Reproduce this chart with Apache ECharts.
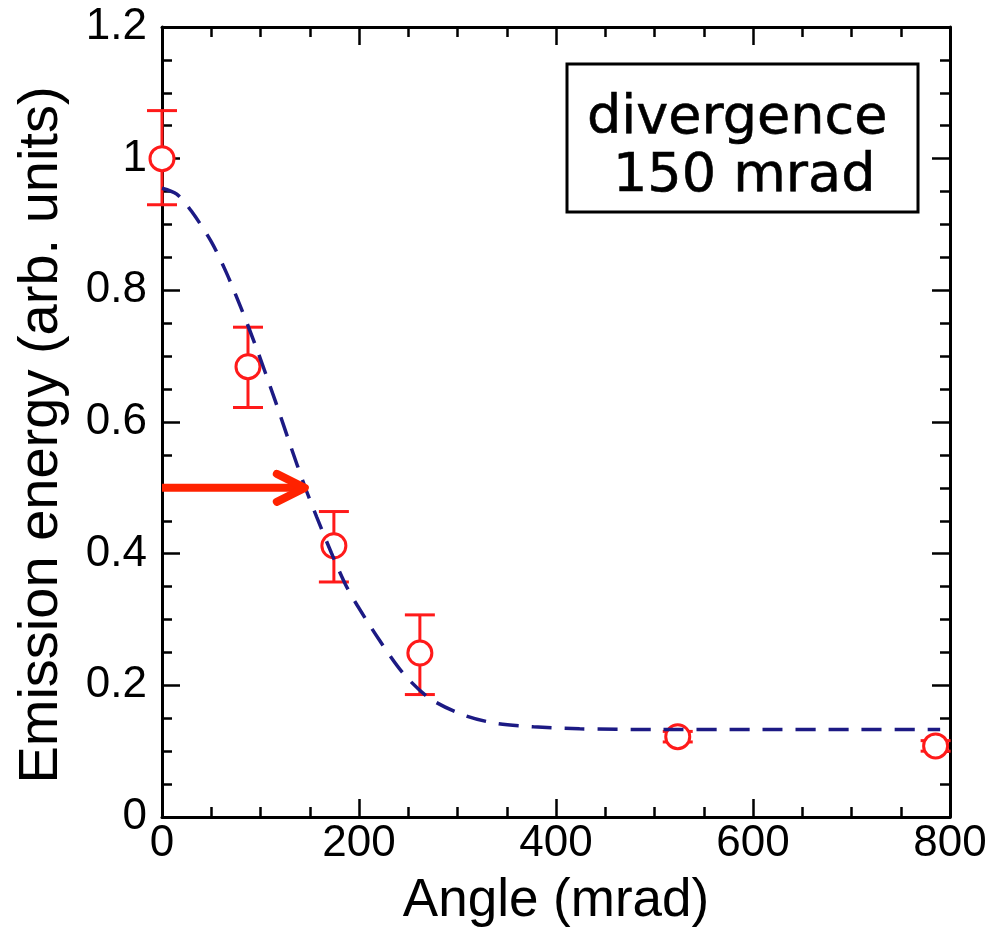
<!DOCTYPE html>
<html>
<head>
<meta charset="utf-8">
<script src="https://cdn.jsdelivr.net/npm/echarts@6/dist/echarts.min.js"></script>
<style>
html,body{margin:0;padding:0;background:#fff;}
#chart{width:990px;height:929px;}
</style>
</head>
<body>
<div id="chart"></div>
<script>
// ---- data ----
const angles   = [0, 87.3, 174.5, 261.8, 523.6, 785.4];
const energy   = [1.0, 0.684, 0.412, 0.249, 0.122, 0.108];
const errLow   = [0.930, 0.622, 0.357, 0.186, 0.114, 0.100];
const errHigh  = [1.073, 0.744, 0.464, 0.307, 0.130, 0.116];

const fitX = [0, 15, 30, 50, 65, 80, 95, 115, 130, 145, 157, 172, 186, 198, 221, 245, 272, 306, 340, 377, 424, 500, 600, 700, 790];
const fitY = [0.955, 0.946, 0.920, 0.874, 0.828, 0.774, 0.716, 0.632, 0.566, 0.502, 0.456, 0.401, 0.354, 0.322, 0.268, 0.218, 0.180, 0.155, 0.142, 0.137, 0.134, 0.133, 0.133, 0.133, 0.133];

const arrowFrom = [0, 0.5];
const arrowTo   = [145, 0.5];

const xTicks = [0, 200, 400, 600, 800];
const yTicks = [0, 0.2, 0.4, 0.6, 0.8, 1, 1.2];

const xTitle = 'Angle (mrad)';
const yTitle = 'Emission energy (arb. units)';
const boxLines = ['divergence', '150 mrad'];

// ---- chart ----
const chart = echarts.init(document.getElementById('chart'), null, {renderer: 'canvas'});
const RED = '#ff1a1a';
const NAVY = '#1c1a84';
const AX = '#000';

const baseAxis = {
  axisLine: {show: true, onZero: false, lineStyle: {color: AX, width: 3}},
  axisTick: {show: true, inside: true, length: 18, lineStyle: {color: AX, width: 2.5}},
  minorTick: {show: true, splitNumber: 4, length: 10, lineStyle: {color: AX, width: 2.5}},
  splitLine: {show: false},
  minorSplitLine: {show: false}
};

const option = {
  backgroundColor: '#fff',
  animation: false,
  grid: {left: 162, top: 27, right: 40, bottom: 112, containLabel: false, outerBoundsMode: 'none'},
  xAxis: [
    Object.assign({}, baseAxis, {
      type: 'value', min: xTicks[0], max: xTicks[xTicks.length - 1], interval: 200,
      position: 'bottom',
      name: xTitle, nameLocation: 'middle', nameGap: 58,
      nameTextStyle: {fontFamily: 'Liberation Sans', fontSize: 53, color: '#000'},
      axisLabel: {fontFamily: 'Liberation Sans', fontSize: 44, color: '#000', margin: 5}
    }),
    Object.assign({}, baseAxis, {
      type: 'value', min: xTicks[0], max: xTicks[xTicks.length - 1], interval: 200,
      position: 'top', axisLabel: {show: false}
    })
  ],
  yAxis: [
    Object.assign({}, baseAxis, {
      type: 'value', min: yTicks[0], max: yTicks[yTicks.length - 1], interval: 0.2,
      position: 'left',
      name: yTitle, nameLocation: 'middle', nameGap: 92,
      nameTextStyle: {fontFamily: 'Liberation Sans', fontSize: 56, color: '#000', padding: [0, 26, 0, 0]},
      axisLabel: {fontFamily: 'Liberation Sans', fontSize: 44, color: '#000', margin: 15}
    }),
    Object.assign({}, baseAxis, {
      type: 'value', min: yTicks[0], max: yTicks[yTicks.length - 1], interval: 0.2,
      position: 'right', axisLabel: {show: false}
    })
  ],
  series: [
    {
      type: 'custom',
      name: 'error',
      z: 2,
      data: angles.map((a, i) => [a, errLow[i], errHigh[i]]),
      renderItem: function (params, api) {
        const x = api.value(0);
        const lo = api.coord([x, api.value(1)]);
        const hi = api.coord([x, api.value(2)]);
        const w = 15;
        const st = {stroke: RED, lineWidth: 3, fill: null};
        return {
          type: 'group',
          children: [
            {type: 'line', shape: {x1: lo[0], y1: lo[1], x2: hi[0], y2: hi[1]}, style: st},
            {type: 'line', shape: {x1: lo[0] - w, y1: lo[1], x2: lo[0] + w, y2: lo[1]}, style: st},
            {type: 'line', shape: {x1: hi[0] - w, y1: hi[1], x2: hi[0] + w, y2: hi[1]}, style: st}
          ]
        };
      }
    },
    {
      type: 'scatter',
      name: 'data',
      z: 3,
      data: angles.map((a, i) => [a, energy[i]]),
      symbol: 'circle',
      symbolSize: 24,
      itemStyle: {color: '#fff', borderColor: RED, borderWidth: 3, opacity: 1}
    },
    {
      type: 'line',
      name: 'fit',
      z: 4,
      data: fitX.map((x, i) => [x, fitY[i]]),
      smooth: 0.3,
      showSymbol: false,
      symbol: 'none',
      lineStyle: {color: NAVY, width: 3.5, type: [20, 13]}
    },
    {
      type: 'custom',
      name: 'arrow',
      z: 5,
      data: [[arrowFrom[0], arrowFrom[1], arrowTo[0], arrowTo[1]]],
      renderItem: function (params, api) {
        const s = api.coord([api.value(0), api.value(1)]);
        const e = api.coord([api.value(2), api.value(3)]);
        const st = {stroke: '#ff2200', lineWidth: 8, fill: null, lineCap: 'round', lineJoin: 'round'};
        return {
          type: 'group',
          children: [
            {type: 'line', shape: {x1: s[0], y1: s[1], x2: e[0] - 3, y2: e[1]}, style: {stroke: '#ff2200', lineWidth: 8, lineCap: 'butt'}},
            {type: 'polyline', shape: {points: [[e[0] - 28, e[1] - 14], [e[0], e[1]], [e[0] - 28, e[1] + 14]]}, style: st}
          ]
        };
      }
    }
  ],
  graphic: [
    {
      type: 'rect',
      shape: {x: 567, y: 64, width: 351, height: 148},
      style: {fill: '#fff', stroke: '#000', lineWidth: 3},
      z: 10
    },
    {
      type: 'text',
      x: 587, y: 146,
      style: {text: boxLines[0], font: '54px "DejaVu Sans"', fill: '#000', stroke: '#000', lineWidth: 0.6, textVerticalAlign: 'bottom'},
      z: 11
    },
    {
      type: 'text',
      x: 613, y: 204,
      style: {text: boxLines[1], font: '54px "DejaVu Sans"', fill: '#000', stroke: '#000', lineWidth: 0.6, textVerticalAlign: 'bottom'},
      z: 11
    }
  ]
};
chart.setOption(option);
</script>
</body>
</html>
